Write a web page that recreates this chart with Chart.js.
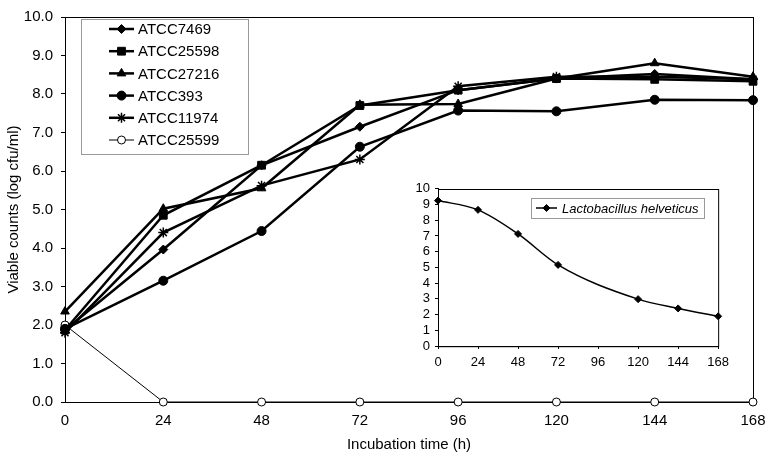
<!DOCTYPE html>
<html>
<head>
<meta charset="utf-8">
<script src="https://cdn.jsdelivr.net/npm/chart.js@4/dist/chart.umd.min.js"></script>
<style>
  body { margin: 0; background: #fff; }
  #wrap { position: relative; width: 772px; height: 462px; }
  #main { position: absolute; left: 0; top: 0; }
  #inset { position: absolute; left: 395px; top: 176px; }
</style>
</head>
<body>
<div id="wrap">
  <canvas id="main" width="772" height="462"></canvas>
  <canvas id="inset" width="340" height="200"></canvas>
</div>
<script>
// main chart data (log cfu/ml)
const hours = [0, 24, 48, 72, 96, 120, 144, 168];
const atcc7469  = [1.87, 3.96, 6.15, 7.15, 8.10, 8.40, 8.52, 8.38];
const atcc25598 = [1.87, 4.85, 6.15, 7.70, 8.10, 8.40, 8.38, 8.33];
const atcc27216 = [2.35, 5.02, 5.55, 7.72, 7.74, 8.40, 8.80, 8.45];
const atcc393   = [1.90, 3.15, 4.44, 6.63, 7.57, 7.55, 7.85, 7.84];
const atcc11974 = [1.80, 4.40, 5.62, 6.30, 8.20, 8.45, 8.45, 8.38];
const atcc25599 = [2.00, 0, 0, 0, 0, 0, 0, 0];

// inset
const insetHours = [0, 24, 48, 72, 120, 144, 168];
const helveticus = [9.25, 8.66, 7.13, 5.16, 2.98, 2.39, 1.89];

const FONT = '"Liberation Sans", Arial, sans-serif';
Chart.defaults.font.family = FONT;
Chart.defaults.color = '#000';

const pts = (xs, ys) => xs.map((x, i) => ({ x: x, y: ys[i] }));

// box around the plot area
const frame = {
  id: 'frame',
  beforeDatasetsDraw(chart) {
    const { ctx, chartArea: a } = chart;
    ctx.save();
    ctx.strokeStyle = '#000';
    ctx.lineWidth = 1;
    ctx.strokeRect(Math.round(a.left) + 0.5, Math.round(a.top) + 0.5, a.right - a.left, a.bottom - a.top);
    ctx.restore();
  }
};

// legend drawn as a bordered box with line + marker samples
const boxLegend = {
  id: 'boxLegend',
  afterDraw(chart, args, o) {
    const ctx = chart.ctx;
    ctx.save();
    ctx.fillStyle = '#fff';
    ctx.fillRect(o.x, o.y, o.w, o.h);
    ctx.strokeStyle = o.borderColor;
    ctx.lineWidth = 1;
    ctx.strokeRect(o.x + 0.5, o.y + 0.5, o.w, o.h);
    ctx.font = o.font;
    ctx.textBaseline = 'middle';
    chart.data.datasets.forEach((ds, i) => {
      const y = o.y + o.firstRow + i * o.rowH;
      const x0 = o.x + o.lineX;
      ctx.strokeStyle = ds.borderColor;
      ctx.lineWidth = ds.borderWidth;
      ctx.beginPath();
      ctx.moveTo(x0, y);
      ctx.lineTo(x0 + o.lineLen, y);
      ctx.stroke();
      ctx.fillStyle = ds.pointBackgroundColor;
      ctx.strokeStyle = ds.pointBorderColor;
      ctx.lineWidth = ds.pointBorderWidth;
      Chart.helpers.drawPoint(ctx, { pointStyle: ds.pointStyle, radius: ds.pointRadius, borderWidth: ds.pointBorderWidth, rotation: 0 }, x0 + o.lineLen / 2, y);
      ctx.fillStyle = '#000';
      ctx.fillText(ds.label, o.x + o.textX, y + 1);
    });
    ctx.restore();
  }
};

function series(label, data, style, radius, opts) {
  return Object.assign({
    label: label,
    data: pts(hours, data),
    borderColor: '#000',
    borderWidth: 2.5,
    pointStyle: style,
    pointRadius: radius,
    pointBackgroundColor: '#000',
    pointBorderColor: '#000',
    pointBorderWidth: 1,
    tension: 0,
    clip: false
  }, opts || {});
}

new Chart(document.getElementById('main'), {
  type: 'line',
  data: {
    datasets: [
      series('ATCC7469', atcc7469, 'rectRot', 4.5),
      series('ATCC25598', atcc25598, 'rect', 5.5),
      series('ATCC27216', atcc27216, 'triangle', 5),
      series('ATCC393', atcc393, 'circle', 4.5),
      series('ATCC11974', atcc11974, 'star', 5, { pointBorderWidth: 1.5 }),
      series('ATCC25599', atcc25599, 'circle', 4, { borderWidth: 1, pointBackgroundColor: '#fff' })
    ]
  },
  options: {
    responsive: false,
    animation: false,
    layout: { padding: { left: 0, top: 13, right: 19, bottom: 0 } },
    plugins: {
      legend: { display: false },
      tooltip: { enabled: false },
      boxLegend: {
        x: 81, y: 19, w: 167, h: 135,
        firstRow: 10, rowH: 22.2,
        lineX: 28, lineLen: 25, textX: 57,
        font: '15px ' + FONT,
        borderColor: '#999'
      }
    },
    scales: {
      x: {
        type: 'linear',
        min: 0, max: 168,
        border: { color: '#000', width: 1 },
        grid: { drawOnChartArea: false, tickLength: 4, tickColor: 'rgba(0,0,0,0)' },
        ticks: { stepSize: 24, padding: 6, font: { size: 15 }, maxRotation: 0, autoSkip: false },
        title: { display: true, text: 'Incubation time (h)', font: { size: 15 }, padding: { top: 0, bottom: 8 } },
        afterFit(s) { s.height = 60; }
      },
      y: {
        min: 0, max: 10,
        border: { color: '#000', width: 1 },
        grid: { drawOnChartArea: false, tickLength: 4, tickColor: '#000' },
        ticks: { stepSize: 1, padding: 8, font: { size: 15 }, autoSkip: false, callback: v => v.toFixed(1) },
        title: { display: true, text: 'Viable counts (log cfu/ml)', font: { size: 15 }, padding: { top: 5, bottom: 0 } },
        afterFit(s) { s.width = 65; }
      }
    }
  },
  plugins: [frame, boxLegend]
});

new Chart(document.getElementById('inset'), {
  type: 'line',
  data: {
    datasets: [{
      label: 'Lactobacillus helveticus',
      data: pts(insetHours, helveticus),
      borderColor: '#000',
      borderWidth: 1.5,
      pointStyle: 'rectRot',
      pointRadius: 3.5,
      pointBackgroundColor: '#000',
      pointBorderColor: '#000',
      pointBorderWidth: 1,
      cubicInterpolationMode: 'monotone',
      clip: false
    }]
  },
  options: {
    responsive: false,
    animation: false,
    layout: { padding: { left: 0, top: 11, right: 16, bottom: 0 } },
    plugins: {
      legend: { display: false },
      tooltip: { enabled: false },
      boxLegend: {
        x: 136, y: 22, w: 173, h: 20,
        firstRow: 10, rowH: 20,
        lineX: 5, lineLen: 21, textX: 31,
        font: 'italic 13px ' + FONT,
        borderColor: '#999'
      }
    },
    scales: {
      x: {
        type: 'linear',
        min: 0, max: 168,
        border: { color: '#000', width: 1 },
        grid: { drawOnChartArea: false, tickLength: 3, tickColor: '#000' },
        ticks: { stepSize: 24, padding: 6, font: { size: 13 }, maxRotation: 0, autoSkip: false },
        afterFit(s) { s.height = 30; }
      },
      y: {
        min: 0, max: 10,
        border: { color: '#000', width: 1 },
        grid: { drawOnChartArea: false, tickLength: 3, tickColor: '#000' },
        ticks: { stepSize: 1, padding: 5, font: { size: 13 }, autoSkip: false },
        afterFit(s) { s.width = 43; }
      }
    }
  },
  plugins: [frame, boxLegend]
});
</script>
</body>
</html>
